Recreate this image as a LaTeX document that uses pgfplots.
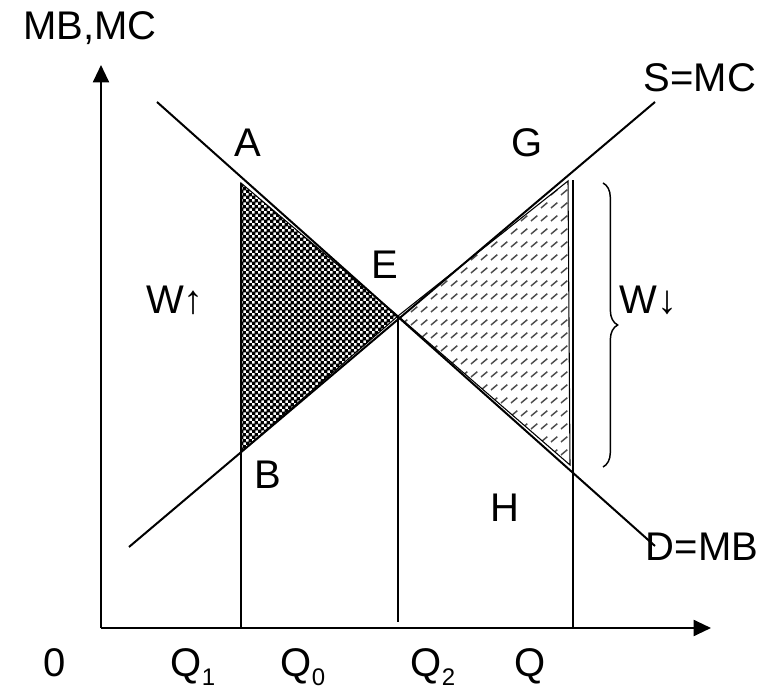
\documentclass[border=0pt]{standalone}
\usepackage{pgfplots}
\pgfplotsset{compat=1.18}
\usepackage{fontspec}
\setmainfont{Liberation Sans}
\usetikzlibrary{patterns,arrows.meta,decorations.pathreplacing}
\pgfdeclarepatternformonly{checker}{\pgfpointorigin}{\pgfqpoint{4.5pt}{4.5pt}}{\pgfqpoint{4.5pt}{4.5pt}}{%
  \pgfpathrectangle{\pgfpointorigin}{\pgfqpoint{3pt}{3pt}}%
  \pgfpathrectangle{\pgfqpoint{2.25pt}{2.25pt}}{\pgfqpoint{3pt}{3pt}}%
  \pgfusepath{fill}}
\pgfdeclarepatternformonly{dashhatch}{\pgfqpoint{-1pt}{-1pt}}{\pgfqpoint{8.5pt}{10.75pt}}{\pgfqpoint{7.5pt}{9.75pt}}{%
  \pgfsetlinewidth{1.1pt}%
  \pgfpathmoveto{\pgfqpoint{0.75pt}{1.5pt}}%
  \pgfpathlineto{\pgfqpoint{5.5pt}{5.5pt}}%
  \pgfusepath{stroke}}
\newcommand\sub[1]{\raisebox{-6.5pt}{\fontsize{18}{20}\selectfont #1}}
\begin{document}
\begin{tikzpicture}[font=\fontsize{30}{36}\selectfont]
\begin{axis}[
  x=0.75pt, y=0.75pt,
  xmin=0, xmax=610, ymin=0, ymax=563,
  axis lines=none, clip=false,
  xtick=\empty, ytick=\empty,
]
% invisible frame giving the reference proportions
\path (axis cs:-101,-63) rectangle (axis cs:680,628);
% shaded areas
\addplot[draw=black, line width=0.8pt, pattern=checker, pattern color=black] coordinates {(140,445) (297,312) (140,176)} -- cycle;
\addplot[draw=black, line width=0.8pt, pattern=dashhatch, pattern color=black!70] coordinates {(297,312) (467,447) (469,163)} -- cycle;
% axes
\addplot[black, line width=1.5pt, -{Triangle[length=13pt,width=12pt]}] coordinates {(0,0) (610,0)};
\addplot[black, line width=1.5pt, -{Triangle[length=13pt,width=12pt]}] coordinates {(0,0) (0,563)};
% demand and supply
\addplot[black, line width=1.5pt] coordinates {(56,526) (554,82)};
\addplot[black, line width=1.5pt] coordinates {(28,81) (554,526)};
% verticals
\addplot[black, line width=1.2pt] coordinates {(140,0) (140,445)};
\addplot[black, line width=1.2pt] coordinates {(297,6) (297,312)};
\addplot[black, line width=1.5pt] coordinates {(472,0) (472,448)};
% brace
\draw[line width=1.1pt, decorate, decoration={brace, amplitude=11pt}] (axis cs:502,445) -- (axis cs:502,161);
% labels
\node at (axis cs:-11,600) {MB,MC};
\node at (axis cs:147,485) {A};
\node at (axis cs:426,485) {G};
\node at (axis cs:284,363) {E};
\node at (axis cs:74,328) {W↑};
\node[anchor=west, inner sep=0pt] at (axis cs:518,328) {W↓};
\node at (axis cs:167,153) {B};
\node at (axis cs:404,120) {H};
\node at (axis cs:599,550) {S=MC};
\node at (axis cs:601,81) {D=MB};
\node[anchor=base, inner sep=0pt] at (axis cs:-46,-49) {0};
\node[anchor=base, inner sep=0pt] at (axis cs:92,-49) {Q\sub{1}};
\node[anchor=base, inner sep=0pt] at (axis cs:202,-49) {Q\sub{0}};
\node[anchor=base, inner sep=0pt] at (axis cs:332,-49) {Q\sub{2}};
\node[anchor=base, inner sep=0pt] at (axis cs:429,-49) {Q};
\end{axis}
\end{tikzpicture}
\end{document}
